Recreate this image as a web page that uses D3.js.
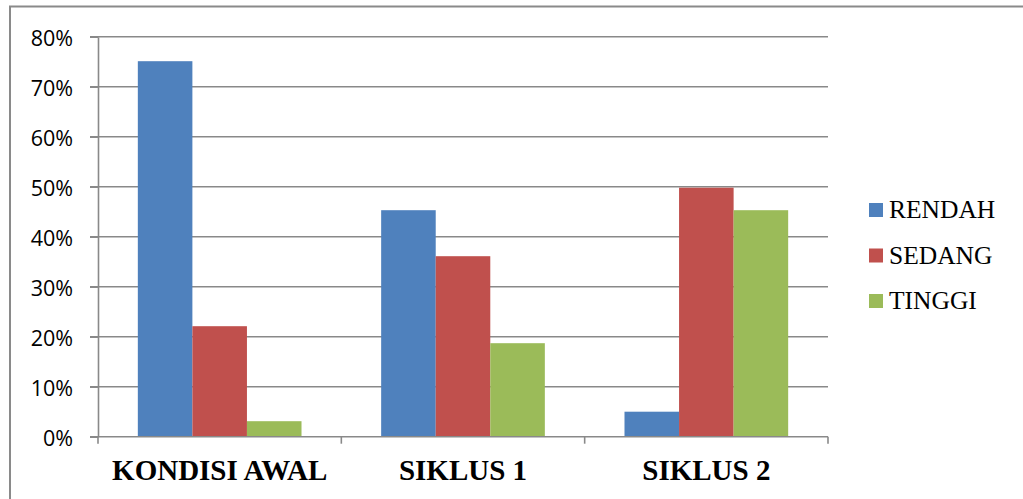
<!DOCTYPE html>
<html><head><meta charset="utf-8">
<script src="https://cdn.jsdelivr.net/npm/d3@7"></script>
<style>
html,body{margin:0;padding:0;background:#fff;}
svg{display:block;}
</style></head>
<body>
<svg id="chart" width="1023" height="499"></svg>
<script>
const categories = ["KONDISI AWAL", "SIKLUS 1", "SIKLUS 2"];
const series = ["RENDAH", "SEDANG", "TINGGI"];
const rendah = [0.751, 0.453, 0.050];
const sedang = [0.221, 0.361, 0.498];
const tinggi = [0.031, 0.187, 0.453];
const yTicks = [0, 0.1, 0.2, 0.3, 0.4, 0.5, 0.6, 0.7, 0.8];
const colors = ["#4F81BD", "#C0504D", "#9BBB59"];

(function () {
const values = [rendah, sedang, tinggi];
const svg = d3.select("#chart");
const W = 1023, H = 499;
const pLeft = 98, pRight = 828, pTop = 36.7, pBottom = 436.7;
const gridColor = "#898989";
const SERIF = '"Liberation Serif"';
const SANS = '"Open Sans"';

// outer frame (left and top visible)
svg.append("line").attr("x1", 10).attr("x2", 10).attr("y1", 6).attr("y2", H)
  .attr("stroke", "#8a8a8a").attr("stroke-width", 2);
svg.append("line").attr("x1", 9).attr("x2", W).attr("y1", 6.5).attr("y2", 6.5)
  .attr("stroke", "#8a8a8a").attr("stroke-width", 2);

const y = d3.scaleLinear().domain([0, 0.8]).range([pBottom, pTop]);
const x0 = d3.scaleBand().domain(categories).range([pLeft, pRight]).padding(0);
const x1 = d3.scaleBand().domain(series).range([0, x0.bandwidth()])
  .paddingInner(0).paddingOuter(0.73);

// gridlines
svg.append("g").selectAll("line").data(yTicks.slice(1)).join("line")
  .attr("x1", pLeft - 8).attr("x2", pRight)
  .attr("y1", d => y(d)).attr("y2", d => y(d))
  .attr("stroke", gridColor).attr("stroke-width", 1.6);

// y axis
const yAxis = d3.axisLeft(y).tickValues(yTicks).tickFormat(d3.format(".0%"))
  .tickSizeInner(8).tickSizeOuter(0).tickPadding(17);
const gy = svg.append("g").attr("transform", `translate(${pLeft},0)`).call(yAxis)
  .attr("font-family", null).attr("font-size", null);
gy.select(".domain").attr("stroke", gridColor).attr("stroke-width", 1.6);
gy.selectAll(".tick line").attr("stroke", gridColor).attr("stroke-width", 1.6);
gy.selectAll(".tick text")
  .style("font-family", SANS).style("font-size", "21.5px")
  .attr("fill", "#000").attr("dy", "0.42em");

// bars
const groups = svg.append("g").selectAll("g").data(categories).join("g")
  .attr("transform", c => `translate(${x0(c)},0)`);
groups.selectAll("rect")
  .data((c, ci) => series.map((s, si) => ({ s, si, v: values[si][ci] })))
  .join("rect")
  .attr("x", d => x1(d.s)).attr("width", x1.bandwidth())
  .attr("y", d => y(d.v)).attr("height", d => y(0) - y(d.v))
  .attr("fill", d => colors[d.si]);

// x axis
svg.append("line").attr("x1", pLeft - 8).attr("x2", pRight)
  .attr("y1", pBottom).attr("y2", pBottom)
  .attr("stroke", gridColor).attr("stroke-width", 1.6);
const bounds = categories.map(c => x0(c)).concat([x0(categories[categories.length - 1]) + x0.bandwidth()]);
svg.append("g").selectAll("line").data(bounds).join("line")
  .attr("x1", d => d).attr("x2", d => d).attr("y1", pBottom).attr("y2", pBottom + 7)
  .attr("stroke", gridColor).attr("stroke-width", 1.6);
const xAxis = d3.axisBottom(x0).tickSize(0).tickPadding(0);
const gx = svg.append("g").attr("transform", `translate(0,${pBottom})`).call(xAxis)
  .attr("font-family", null).attr("font-size", null);
gx.select(".domain").remove();
gx.selectAll(".tick text")
  .style("font-family", SERIF).style("font-weight", "bold").style("font-size", "29px")
  .attr("fill", "#000").attr("y", 43.5).attr("dy", 0);

// legend
const leg = svg.append("g").selectAll("g").data(series).join("g")
  .attr("transform", (d, i) => `translate(869,${203 + i * 45.5})`);
leg.append("rect").attr("width", 14).attr("height", 14).attr("fill", (d, i) => colors[i]);
leg.append("text").attr("x", 20).attr("y", 15)
  .style("font-family", SERIF).style("font-size", "25.5px")
  .attr("fill", "#000").text(d => d);
})();
</script>
</body></html>
